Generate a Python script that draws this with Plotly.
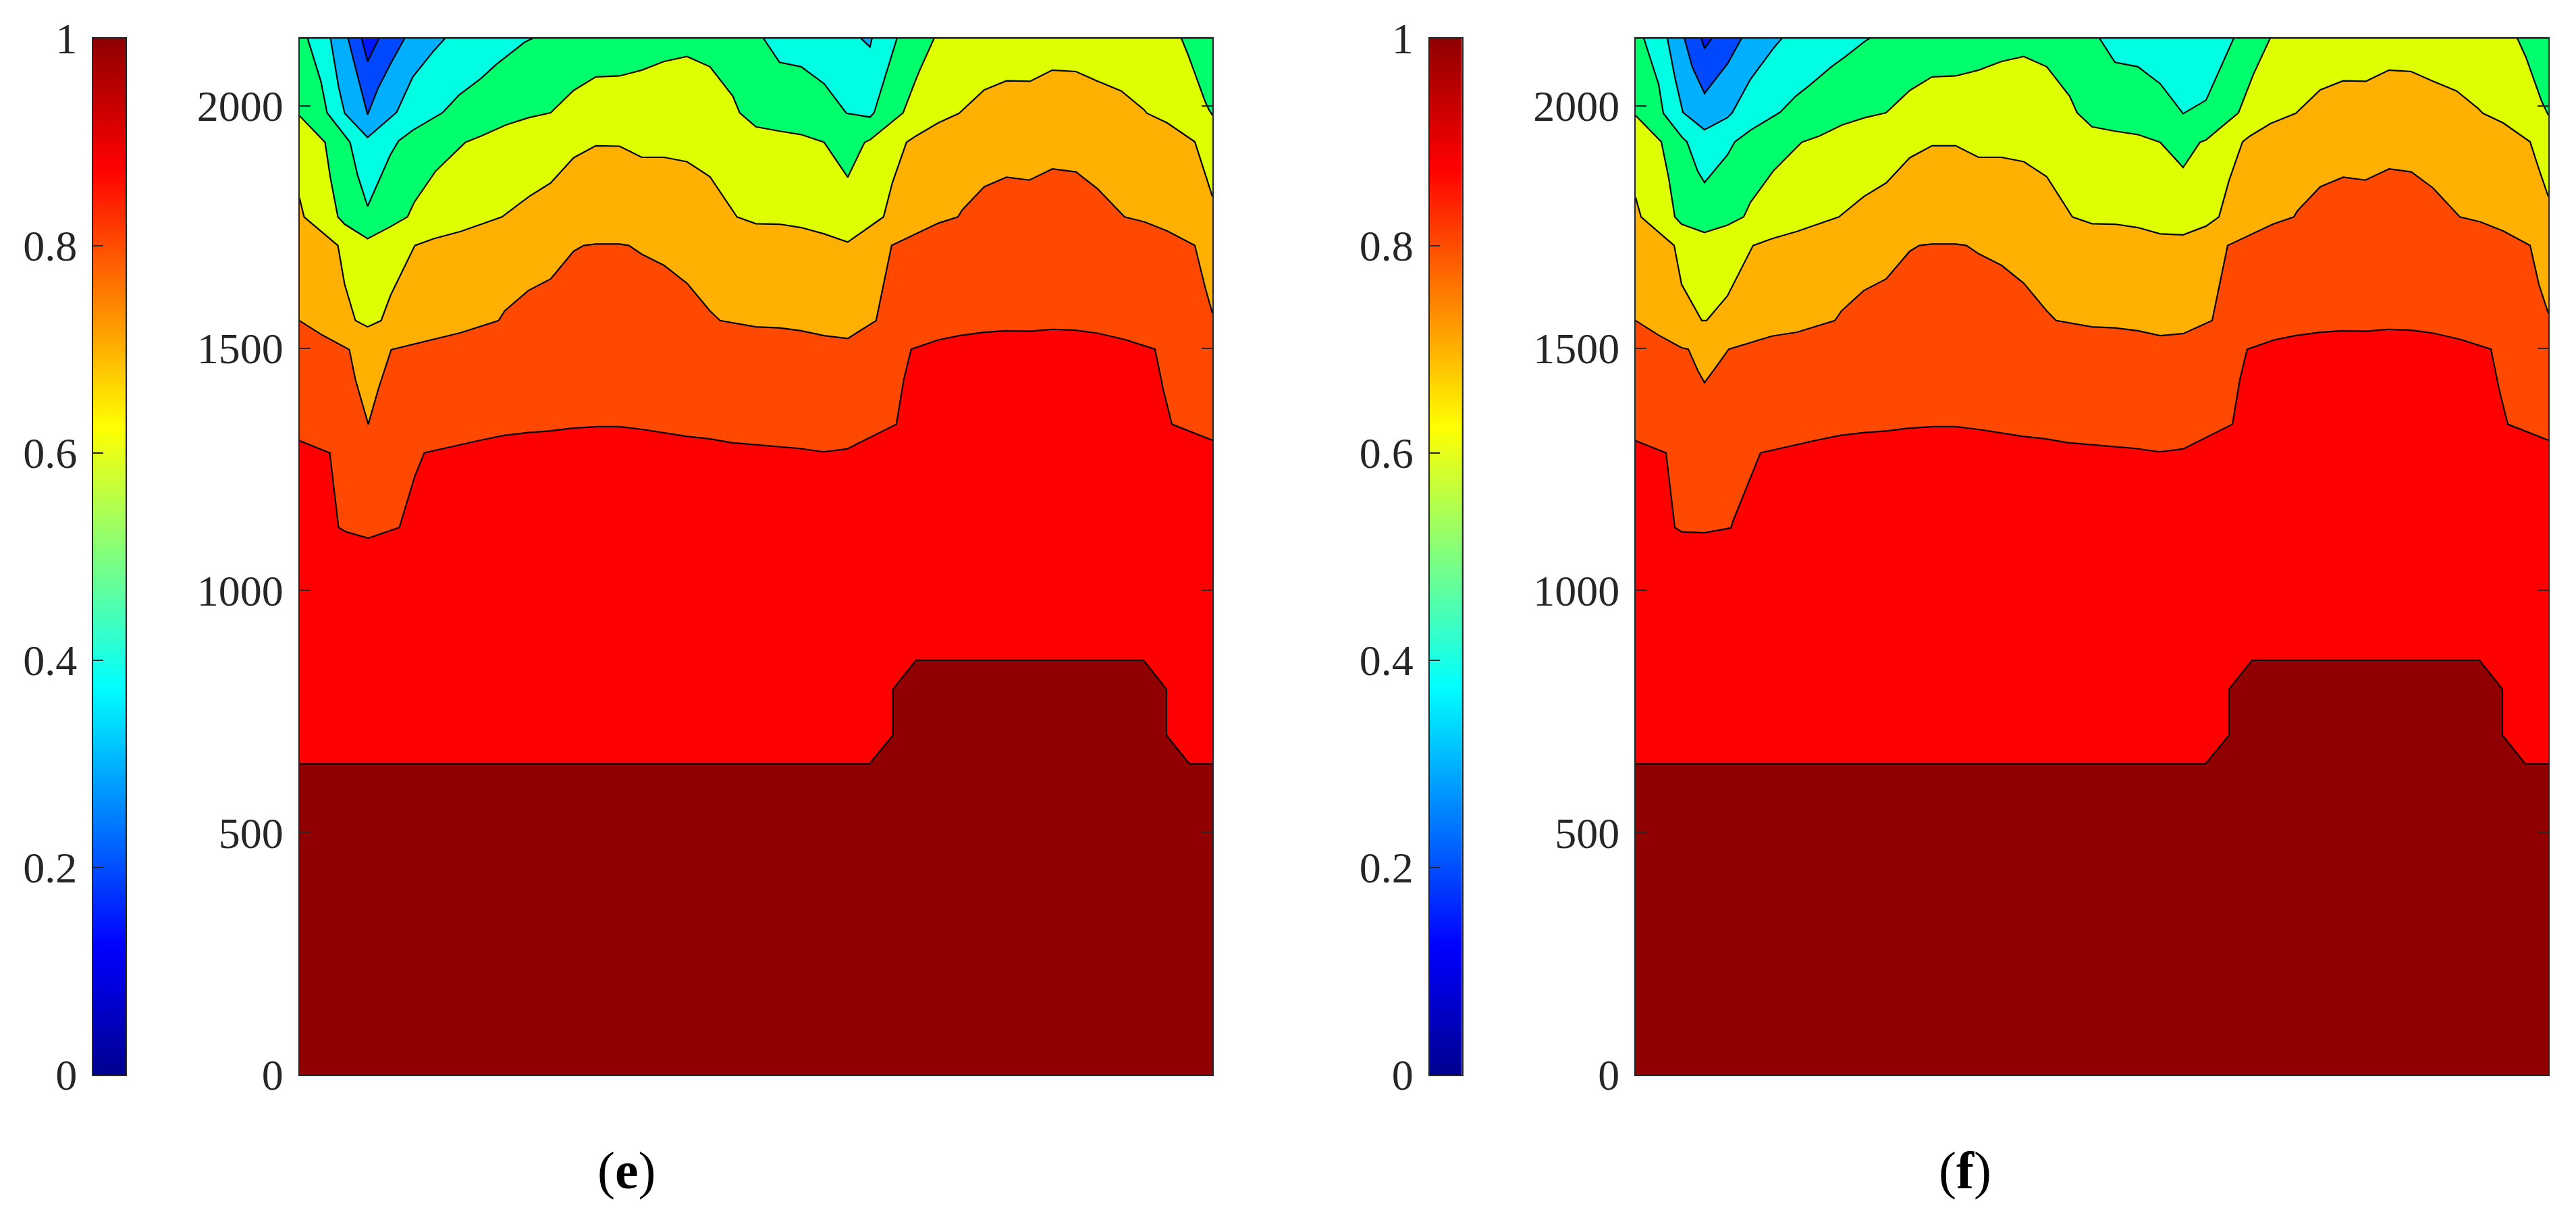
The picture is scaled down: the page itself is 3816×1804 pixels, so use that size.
import numpy as np
import plotly.graph_objects as go

# Contour lines. x has no scale in the figure, so it runs 0-1352.
TOP = 2140

# Panel (e)
e_blue_x = [0, 92, 101, 118, 1352]
e_blue_y = [TOP, TOP, 2092, TOP, TOP]
e_sky_x = [0, 72, 81, 101, 116, 135, 156, 1352]
e_sky_y = [TOP, TOP, 2090, 1982, 2035, 2087, TOP, TOP]
e_cyan_x = [0, 46, 58, 67, 101, 144, 168, 199, 216, 831, 845, 848, 1352]
e_cyan_y = [TOP, TOP, 2040, 1985, 1935, 1987, 2060, 2114, TOP, TOP, 2122, TOP, TOP]
e_green_x = [0, 12, 32, 41, 75, 86, 101, 135, 147, 168, 212, 236, 269, 291, 334, 346,
             687, 711, 743, 777, 810, 845, 851, 878, 885, 1352]
e_green_y = [TOP, TOP, 2050, 1986, 1925, 1858, 1793, 1900, 1928, 1950, 1986, 2022, 2057, 2085, 2132, TOP,
             TOP, 2090, 2081, 2046, 1985, 1977, 1986, 2109, TOP, TOP]
e_yellow_x = [0, 38, 46, 57, 67, 101, 135, 160, 170, 202, 246, 269, 306, 340, 372, 406, 439,
              474, 507, 540, 574, 608, 642, 652, 676, 711, 743, 777, 812, 837, 845, 878, 894, 913, 919, 940,
              1306, 1317, 1341, 1347, 1352]
e_yellow_y = [1980, 1925, 1851, 1771, 1756, 1726, 1751, 1771, 1801, 1866, 1925, 1938, 1961, 1976, 1986, 2032, 2060,
              2062, 2074, 2092, 2102, 2081, 2020, 1986, 1957, 1948, 1941, 1925, 1853, 1925, 1930, 1967, 1986, 2055, 2075, TOP,
              TOP, 2102, 2010, 1992, 1981]
e_orange_x = [0, 7, 57, 67, 83, 101, 121, 135, 171, 199, 239, 300, 340, 372, 406, 439,
              474, 507, 540, 574, 608, 648, 676, 711, 743, 777, 812, 865, 878, 899, 913, 946, 977,
              1014, 1047, 1082, 1115, 1150, 1182, 1217, 1251, 1255, 1285, 1326, 1341, 1352]
e_orange_y = [1811, 1771, 1712, 1632, 1557, 1544, 1557, 1609, 1712, 1726, 1741, 1771, 1813, 1841, 1893, 1918,
              1917, 1894, 1894, 1885, 1854, 1771, 1757, 1756, 1749, 1736, 1719, 1771, 1841, 1925, 1938, 1965, 1985,
              2033, 2052, 2051, 2074, 2071, 2051, 2031, 1992, 1985, 1965, 1926, 1861, 1813]
e_redorange_x = [0, 34, 74, 83, 102, 117, 136, 239, 295, 304, 339, 372, 406, 421, 439,
                 474, 488, 507, 540, 574, 608, 623, 676, 711, 743, 777, 812, 854, 877, 913, 946, 975, 982,
                 1014, 1047, 1081, 1115, 1150, 1182, 1222, 1251, 1285, 1326, 1341, 1352]
e_redorange_y = [1557, 1527, 1497, 1435, 1343, 1416, 1497, 1532, 1557, 1577, 1619, 1643, 1700, 1712, 1715,
                 1715, 1712, 1694, 1671, 1634, 1577, 1557, 1544, 1542, 1536, 1526, 1520, 1557, 1712, 1736, 1758, 1771, 1786,
                 1833, 1853, 1847, 1870, 1864, 1829, 1771, 1761, 1742, 1712, 1627, 1572]
e_red_x = [0, 45, 58, 69, 102, 148, 171, 185, 268, 303, 339, 370, 405, 441, 474, 510, 574, 607, 640, 679, 741, 776, 811,
           884, 895, 906, 946, 977, 1014, 1047, 1082, 1115, 1150, 1182, 1222, 1267, 1279, 1292, 1352]
e_red_y = [1309, 1284, 1130, 1121, 1108, 1130, 1236, 1284, 1310, 1320, 1326, 1329, 1335, 1338, 1338, 1332, 1318, 1313, 1305, 1300, 1293, 1286, 1292,
           1343, 1435, 1498, 1517, 1526, 1533, 1536, 1535, 1539, 1537, 1531, 1518, 1498, 1416, 1343, 1310]
e_darkred_x = [0, 844, 879, 879, 913, 1250, 1284, 1284, 1318, 1352]
e_darkred_y = [642, 642, 701, 796, 856, 856, 796, 701, 642, 642]

# Panel (f)
f_blue_x = [0, 97, 102, 113, 1352]
f_blue_y = [TOP, TOP, 2119, TOP, TOP]
f_sky_x = [0, 72, 84, 102, 136, 157, 1352]
f_sky_y = [TOP, TOP, 2080, 2026, 2087, TOP, TOP]
f_cyan_x = [0, 47, 58, 70, 102, 136, 143, 170, 204, 217, 1352]
f_cyan_y = [TOP, TOP, 2060, 1987, 1951, 1976, 1986, 2055, 2119, TOP, TOP]
f_green_x = [0, 12, 34, 41, 69, 76, 92, 102, 136, 147, 170, 214, 237, 257, 291, 309, 340, 347,
             687, 710, 744, 777, 811, 845, 886, 1352]
f_green_y = [TOP, TOP, 2045, 1985, 1935, 1926, 1865, 1842, 1899, 1926, 1950, 1987, 2020, 2042, 2082, 2100, 2134, TOP,
             TOP, 2090, 2081, 2046, 1984, 2012, TOP, TOP]
f_yellow_x = [0, 38, 49, 58, 68, 102, 136, 160, 170, 204, 246, 272, 306, 340, 371, 406, 439,
              474, 508, 542, 575, 609, 643, 654, 676, 710, 744, 777, 811, 836, 845, 893, 915, 940,
              1306, 1319, 1342, 1352]
f_yellow_y = [1980, 1926, 1851, 1771, 1756, 1739, 1754, 1771, 1801, 1866, 1925, 1938, 1961, 1976, 1986, 2032, 2060,
              2062, 2074, 2092, 2102, 2081, 2020, 1986, 1957, 1948, 1941, 1925, 1873, 1925, 1930, 1986, 2065, TOP,
              TOP, 2100, 2010, 1981]
f_orange_x = [0, 8, 57, 68, 98, 105, 136, 174, 202, 239, 301, 338, 371, 406, 439,
              474, 508, 542, 575, 609, 647, 676, 710, 744, 777, 811, 845, 864, 879, 899, 910, 941, 978,
              1014, 1048, 1082, 1116, 1149, 1181, 1216, 1248, 1255, 1285, 1325, 1338, 1352]
f_orange_y = [1811, 1771, 1712, 1632, 1557, 1557, 1608, 1712, 1726, 1741, 1771, 1813, 1841, 1893, 1918,
              1918, 1894, 1894, 1885, 1854, 1771, 1757, 1756, 1749, 1736, 1734, 1752, 1771, 1846, 1926, 1938, 1964, 1985,
              2033, 2052, 2051, 2074, 2071, 2051, 2031, 1995, 1985, 1965, 1926, 1870, 1813]
f_redorange_x = [0, 34, 68, 78, 92, 102, 120, 138, 202, 239, 295, 305, 338, 371, 406, 420, 439,
                 474, 490, 508, 542, 575, 609, 623, 676, 710, 744, 777, 811, 854, 877, 910, 944, 975, 980,
                 1014, 1048, 1081, 1116, 1149, 1181, 1221, 1251, 1285, 1325, 1338, 1352]
f_redorange_y = [1557, 1527, 1501, 1498, 1454, 1429, 1463, 1498, 1525, 1533, 1557, 1577, 1619, 1643, 1700, 1712, 1715,
                 1715, 1712, 1695, 1671, 1634, 1577, 1557, 1544, 1542, 1536, 1526, 1530, 1557, 1712, 1734, 1756, 1771, 1783,
                 1833, 1853, 1847, 1870, 1864, 1831, 1771, 1761, 1742, 1712, 1632, 1572]
f_red_x = [0, 45, 58, 68, 102, 141, 145, 167, 185, 268, 303, 339, 370, 405, 441, 474, 510, 574, 607, 640, 679, 741, 776, 811,
           884, 895, 906, 946, 977, 1014, 1047, 1082, 1115, 1150, 1182, 1222, 1267, 1279, 1292, 1352]
f_red_y = [1309, 1284, 1130, 1121, 1119, 1129, 1146, 1223, 1284, 1310, 1320, 1326, 1329, 1335, 1338, 1338, 1332, 1318, 1313, 1305, 1300, 1293, 1286, 1292,
           1343, 1435, 1498, 1517, 1526, 1533, 1536, 1535, 1539, 1537, 1531, 1518, 1498, 1416, 1343, 1310]
f_darkred_x = [0, 844, 879, 879, 913, 1250, 1284, 1284, 1318, 1352]
f_darkred_y = [642, 642, 701, 796, 856, 856, 796, 701, 642, 642]

# Bands from the top of the panel down, painted in this order
band_colors = ["#0048ff", "#00b0ff", "#00ffe2", "#00ff6c", "#deff00", "#ffb000", "#ff4800", "#ff0000", "#910000"]
e_lines = [(e_blue_x, e_blue_y), (e_sky_x, e_sky_y), (e_cyan_x, e_cyan_y), (e_green_x, e_green_y),
           (e_yellow_x, e_yellow_y), (e_orange_x, e_orange_y), (e_redorange_x, e_redorange_y),
           (e_red_x, e_red_y), (e_darkred_x, e_darkred_y)]
f_lines = [(f_blue_x, f_blue_y), (f_sky_x, f_sky_y), (f_cyan_x, f_cyan_y), (f_green_x, f_green_y),
           (f_yellow_x, f_yellow_y), (f_orange_x, f_orange_y), (f_redorange_x, f_redorange_y),
           (f_red_x, f_red_y), (f_darkred_x, f_darkred_y)]

main_ticks = [0, 500, 1000, 1500, 2000]
cbar_ticks = [0, 0.2, 0.4, 0.6, 0.8, 1]
cbar_labels = ["0", "0.2", "0.4", "0.6", "0.8", "1"]

jet = [[0, "#00008f"], [0.125, "#0000ff"], [0.375, "#00ffff"], [0.625, "#ffff00"],
       [0.875, "#ff0000"], [1, "#8f0000"]]
cbar_steps = (np.arange(256) + 0.5) / 256

# the page keeps the browser's 8px body margin, so the figure sits inside it
PAGE = 8
W, H = 3816 - 2 * PAGE, 1804 - 2 * PAGE
FONT = "Liberation Serif"
INK = "#262626"


def xdom(left, right):
    return [(left - PAGE) / W, (right - PAGE) / W]


ydom = [(H + PAGE - 1592) / H, (H + PAGE - 56.5) / H]

fig = go.Figure()

# colour bars on x/y and x3/y3, panels on x2/y2 and x4/y4
for xa, ya in [("x", "y"), ("x3", "y3")]:
    fig.add_trace(go.Heatmap(x=[0], y=cbar_steps, z=[[v] for v in cbar_steps], zmin=0, zmax=1,
                             colorscale=jet, showscale=False, xaxis=xa, yaxis=ya))

for lines, xa, ya in [(e_lines, "x2", "y2"), (f_lines, "x4", "y4")]:
    for (lx, ly), col in zip(lines, band_colors):
        fig.add_trace(go.Scatter(x=lx, y=ly, mode="lines", fill="tozeroy", fillcolor=col,
                                 line=dict(color="black", width=2.2), xaxis=xa, yaxis=ya,
                                 showlegend=False))

tick_font = dict(family=FONT, size=64, color=INK)
cbar_y = dict(domain=ydom, range=[0, 1], tickvals=cbar_ticks, ticktext=cbar_labels, ticks="inside",
              ticklen=15, tickwidth=2, tickcolor=INK, showline=True, linecolor=INK, linewidth=2,
              mirror=True, showgrid=False, zeroline=False, tickfont=tick_font, ticklabelstandoff=9,
              automargin=False)
main_y = dict(domain=ydom, range=[0, TOP], tickvals=main_ticks, ticks="inside", ticklen=16, tickwidth=2,
              tickcolor=INK, showline=True, linecolor=INK, linewidth=2, mirror="ticks", showgrid=False,
              zeroline=False, tickfont=tick_font, ticklabelstandoff=9, automargin=False)
bare_x = dict(showticklabels=False, ticks="", showgrid=False, zeroline=False, showline=True,
              linecolor=INK, linewidth=2, mirror=True, automargin=False)

fig.update_layout(
    width=W, height=H,
    margin=dict(l=0, r=0, t=0, b=0),
    paper_bgcolor="white", plot_bgcolor="#0018ff",
    showlegend=False,
    xaxis=dict(bare_x, domain=xdom(138, 186), range=[-0.5, 0.5], anchor="y"),
    yaxis=dict(cbar_y, anchor="x"),
    xaxis2=dict(bare_x, domain=xdom(443.5, 1796), range=[0, 1352], anchor="y2"),
    yaxis2=dict(main_y, anchor="x2"),
    xaxis3=dict(bare_x, domain=xdom(2117.5, 2165.5), range=[-0.5, 0.5], anchor="y3"),
    yaxis3=dict(cbar_y, anchor="x3"),
    xaxis4=dict(bare_x, domain=xdom(2423, 3775), range=[0, 1352], anchor="y4"),
    yaxis4=dict(main_y, anchor="x4"),
)

for label, px in [("(<b>e</b>)", 928), ("(<b>f</b>)", 2911)]:
    fig.add_annotation(text=label, xref="paper", yref="paper", x=(px - PAGE) / W, y=(H + PAGE - 1733) / H,
                       xanchor="center", yanchor="middle", showarrow=False,
                       font=dict(family=FONT, size=78, color="black"))

fig.write_html("out.html")
